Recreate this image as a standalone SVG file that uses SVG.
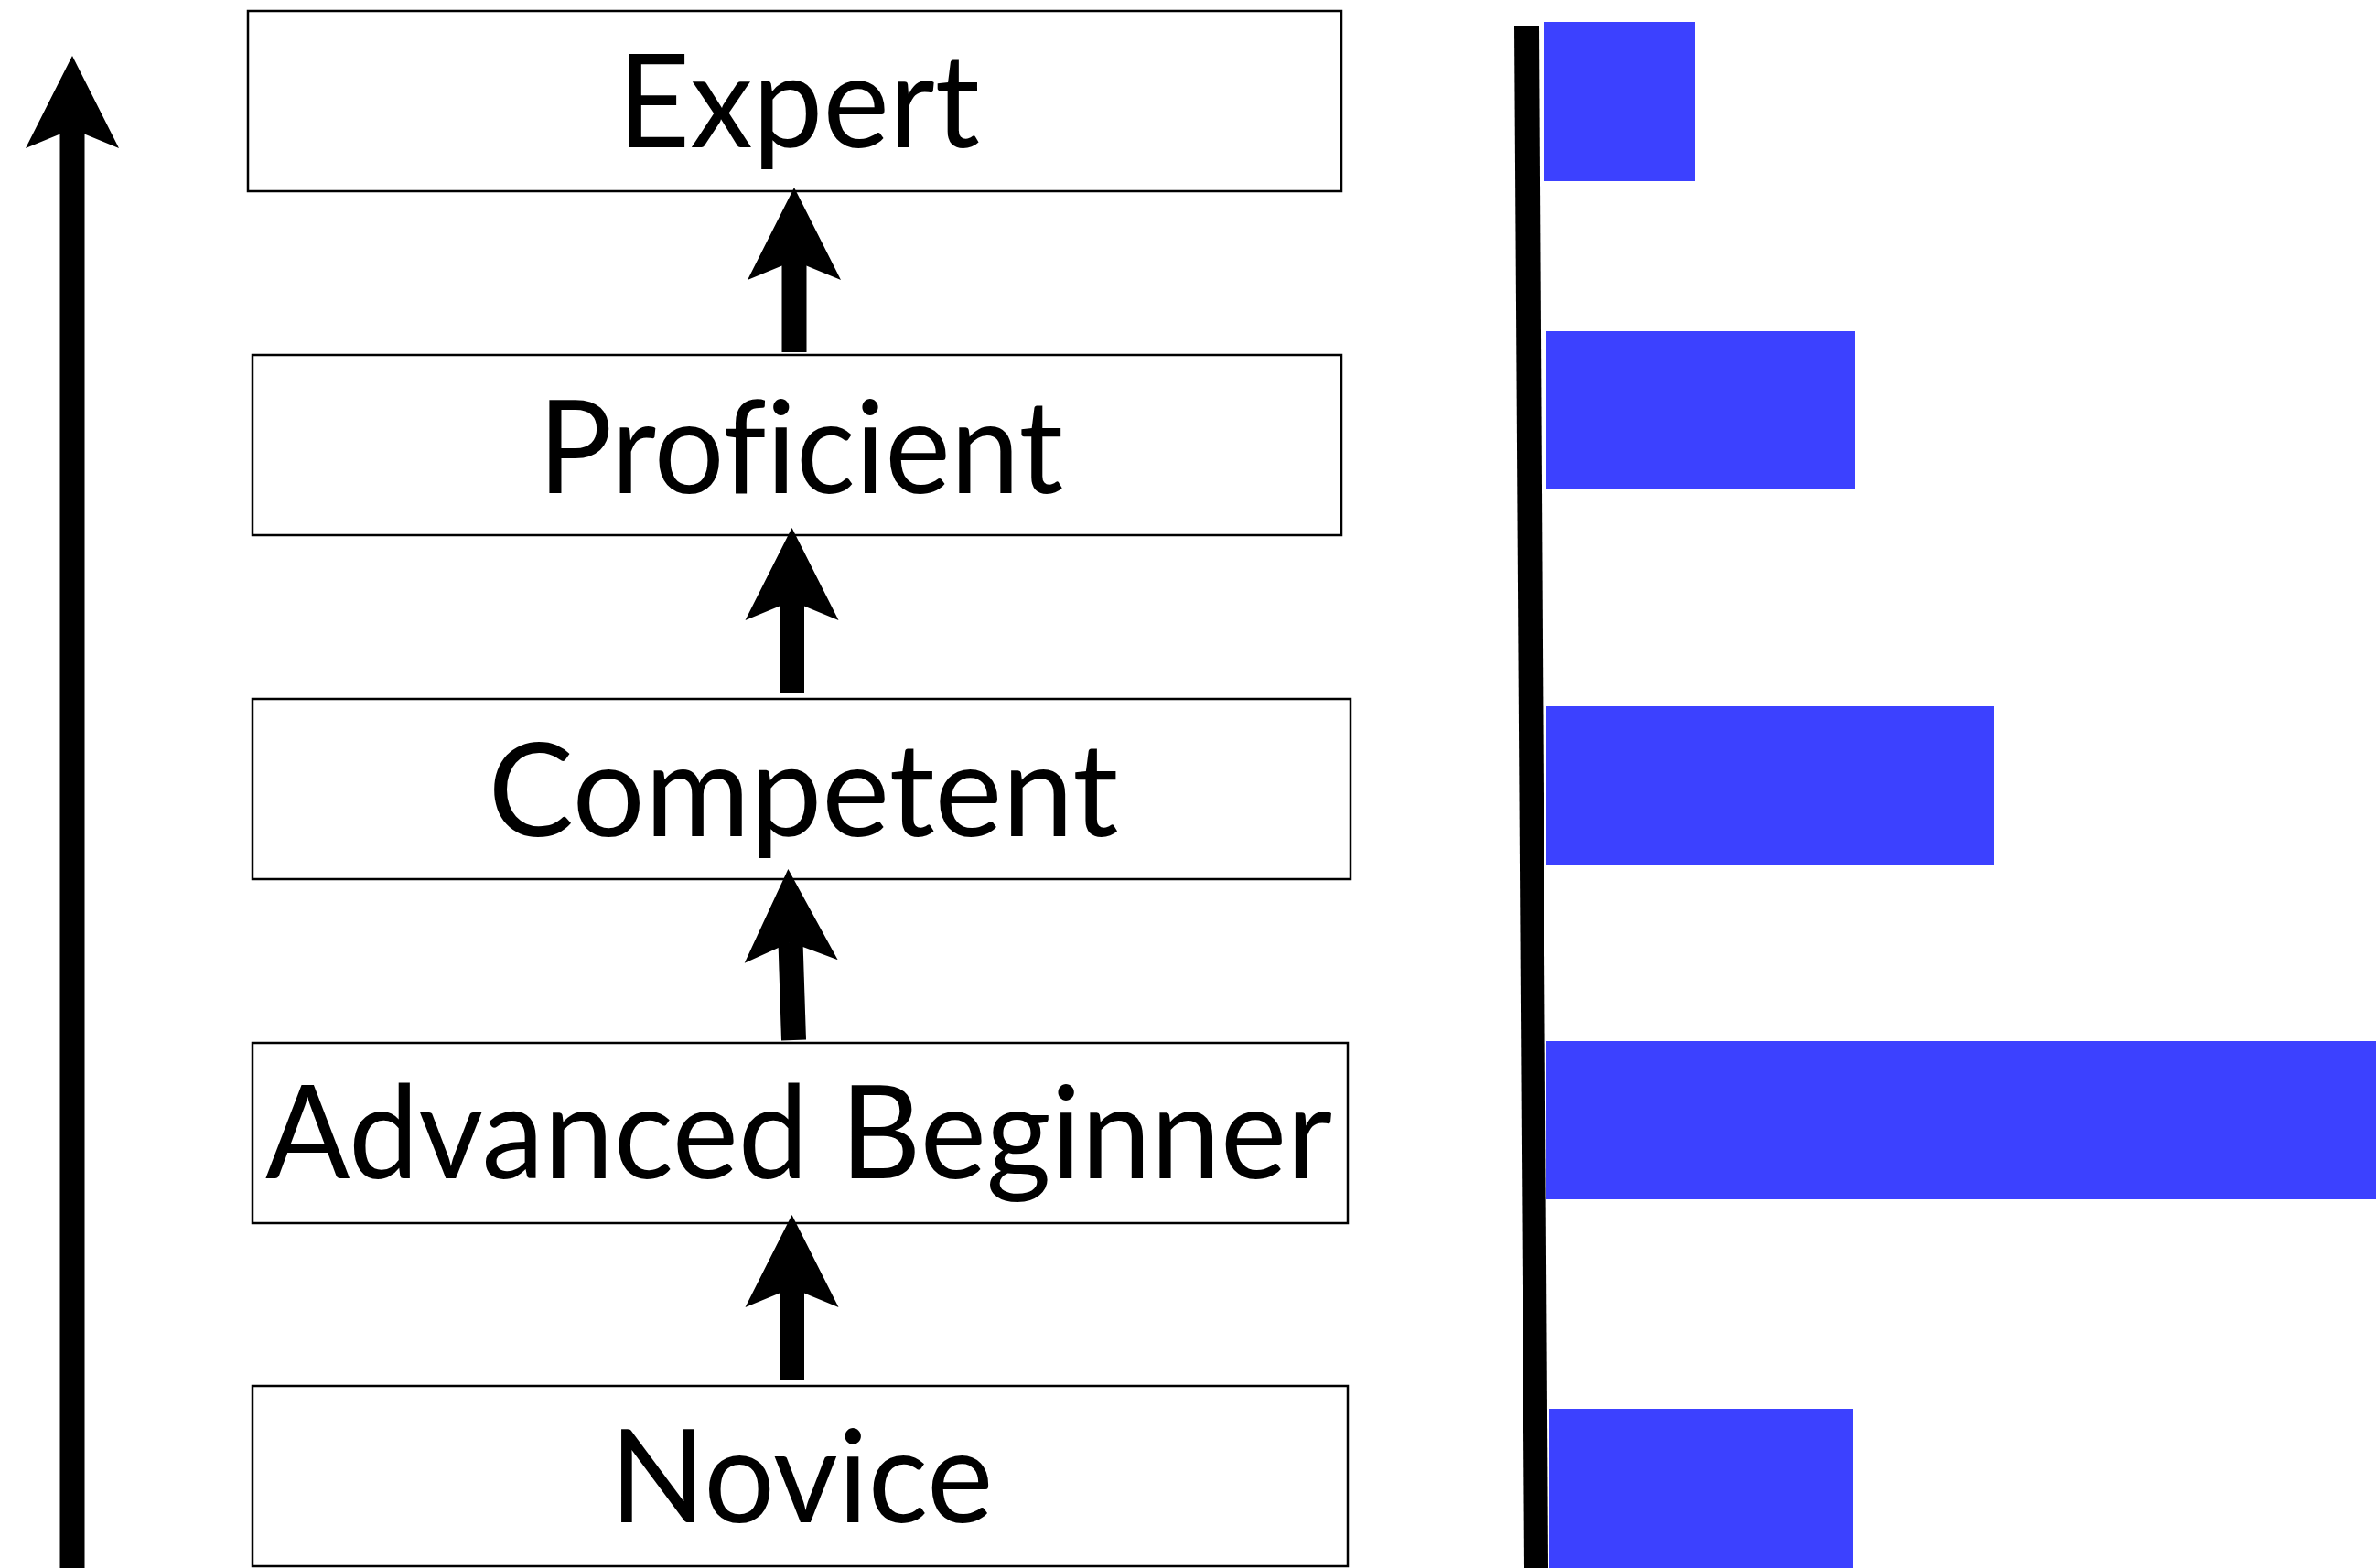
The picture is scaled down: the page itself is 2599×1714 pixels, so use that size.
<svg xmlns="http://www.w3.org/2000/svg" width="2599" height="1714" viewBox="0 0 2599 1714">
<style>
.box{fill:#fff;stroke:#000;stroke-width:2.5}
.lbl{font-family:Lato,"Liberation Sans",sans-serif;font-size:142px;fill:#000;text-anchor:middle;font-variant-ligatures:none;font-feature-settings:"liga" 0}
.shaft{stroke:#000;stroke-width:27;fill:none}
.bar{fill:#3C41FF}
</style>
<defs>
<marker id="ah" markerUnits="userSpaceOnUse" markerWidth="102" markerHeight="104" viewBox="0 -52 102 104" refX="21" refY="0" orient="auto">
<path d="M101,0 L0,-51 L21,0 L0,51 Z" fill="#000"/>
</marker>
</defs>
<rect width="2599" height="1714" fill="#fff"/>
<g id="node-expert">
<rect class="box" x="271" y="12" width="1195" height="197"/>
<text class="lbl" x="873" y="161" textLength="396" lengthAdjust="spacingAndGlyphs">Expert</text>
</g>
<g id="node-proficient">
<rect class="box" x="276" y="388" width="1190" height="197"/>
<text class="lbl" x="875" y="539" textLength="574" lengthAdjust="spacingAndGlyphs">Proficient</text>
</g>
<g id="node-competent">
<rect class="box" x="276" y="764" width="1200" height="197"/>
<text class="lbl" x="878" y="914" textLength="689" lengthAdjust="spacingAndGlyphs">Competent</text>
</g>
<g id="node-advanced-beginner">
<rect class="box" x="276" y="1140" width="1197" height="197"/>
<text class="lbl" x="873" y="1288" textLength="1166" lengthAdjust="spacingAndGlyphs">Advanced Beginner</text>
</g>
<g id="node-novice">
<rect class="box" x="276" y="1515" width="1197" height="197"/>
<text class="lbl" x="876" y="1664" textLength="419" lengthAdjust="spacingAndGlyphs">Novice</text>
</g>
<g id="connectors">
<line class="shaft" x1="79" y1="1714" x2="79" y2="141" marker-end="url(#ah)"/>
<line class="shaft" x1="868" y1="385" x2="868" y2="285" marker-end="url(#ah)"/>
<line class="shaft" x1="865.5" y1="758" x2="865.5" y2="657" marker-end="url(#ah)"/>
<line class="shaft" x1="867.5" y1="1137" x2="864" y2="1030" marker-end="url(#ah)"/>
<line class="shaft" x1="865.5" y1="1509" x2="865.5" y2="1408" marker-end="url(#ah)"/>
</g>
<g id="chart">
<polygon points="1655,28 1682,28 1692,1714 1666,1714" fill="#000"/>
<rect class="bar" x="1687" y="24" width="166" height="174"/>
<rect class="bar" x="1690" y="362" width="337" height="173"/>
<rect class="bar" x="1690" y="772" width="489" height="173"/>
<rect class="bar" x="1690" y="1138" width="907" height="173"/>
<rect class="bar" x="1693" y="1540" width="332" height="174"/>
</g>
</svg>
